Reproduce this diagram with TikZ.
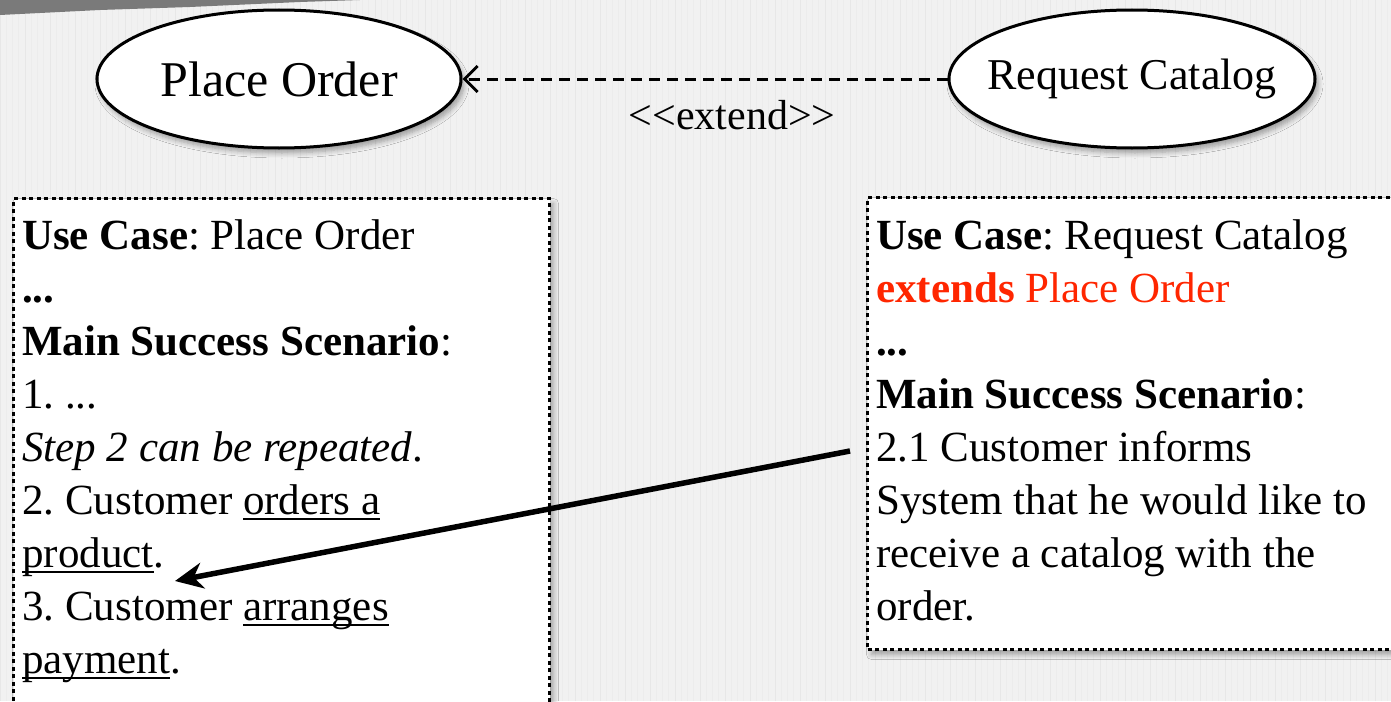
\documentclass[tikz,border=0pt]{standalone}
\usepackage{fontspec}
\setmainfont{Liberation Serif}
\usetikzlibrary{arrows.meta,shapes.geometric,shadows.blur}
\definecolor{bgcol}{HTML}{F1F1F1}
\definecolor{gridminor}{HTML}{ECECEC}
\definecolor{gridmajor}{HTML}{E7E7E7}
\definecolor{tornc}{HTML}{7A7A7A}
\definecolor{extred}{HTML}{FF2600}
\newcommand\myul[1]{\leavevmode\setbox0\hbox{#1}\rlap{\rule[-6pt]{\wd0}{1.8pt}}\box0}
\begin{document}
\frenchspacing
\begin{tikzpicture}[x=1pt,y=-1pt,
  usecase/.style={ellipse, draw, line width=3pt, fill=white, inner sep=0pt,
    blur shadow={shadow xshift=3pt, shadow yshift=-5pt, shadow blur steps=6, shadow blur radius=5pt, shadow opacity=35}},
  ucbox/.style={rectangle, draw, line width=3pt, dash pattern=on 4pt off 3.5pt, fill=white, anchor=north west, inner sep=0pt,
    blur shadow={shadow xshift=4pt, shadow yshift=-5pt, shadow blur steps=6, shadow blur radius=5pt, shadow opacity=35}},
  uctext/.style={anchor=base west, inner sep=0pt, font=\fontsize{43}{53}\selectfont},
  extarrow/.style={line width=3pt, dash pattern=on 11pt off 7pt, -{Straight Barb[length=13pt,width=26pt,line width=3pt]}},
  linkarrow/.style={line width=5.5pt, -{Stealth[length=28pt,width=26pt,inset=9pt]}}
]
\useasboundingbox (0,0) rectangle (1391,701);
\clip (0,0) rectangle (1391,701);
\fill[bgcol] (0,0) rectangle (1391,701);
\draw[gridminor, line width=0.8pt, step=6.25] (0,0) grid (1391,701);
\draw[gridmajor, line width=1pt, step=25] (0,0) grid (1391,701);
\fill[tornc] (0,0) -- (360,0) -- (300,2) -- (190,7) -- (100,10) -- (40,13) -- (0,15) -- cycle;

% use cases
\node[usecase, minimum width=364pt, minimum height=138pt, font=\fontsize{50}{60}\selectfont] (po) at (279,79) {\makebox[0pt]{Place Order}};
\node[usecase, minimum width=366pt, minimum height=138pt, font=\fontsize{44}{52}\selectfont] (rc) at (1132,79) {\makebox[0pt]{Request Catalog}};
\draw[extarrow] (rc.west) -- (po.east);
\node[font=\fontsize{42}{50}\selectfont, inner sep=0pt] (ext) at (732,115) {\hbox{<}\hbox{<}extend\hbox{>}\hbox{>}};

% boxes
\node[ucbox, minimum width=536pt, minimum height=530pt] (lbox) at (12,197) {};
\node[ucbox, minimum width=560pt, minimum height=452pt] (rbox) at (866,196) {};

\node[uctext] (ltext) at (22,249) {\parbox[t]{520pt}{\raggedright
\textbf{Use Case}: Place Order\\
\textbf{...}\\
\textbf{Main Success Scenario}:\\
1. ...\\
\textit{Step 2 can be repeated}.\\
2. Customer \myul{orders a}\\
\myul{product}.\\
3. Customer \myul{arranges}\\
\myul{payment}.}};

\node[uctext] (rtext) at (876,249) {\parbox[t]{510pt}{\raggedright
\textbf{Use Case}: Request Catalog\\
\textcolor{extred}{\textbf{extends} Place Order}\\
\textbf{...}\\
\textbf{Main Success Scenario}:\\
2.1 Customer informs\\
System that he would like to\\
receive a catalog with the\\
order.}};

\coordinate (a1) at (850,451);
\coordinate (a2) at (175,581);
\draw[linkarrow] (a1) -- (a2);
\end{tikzpicture}
\end{document}
